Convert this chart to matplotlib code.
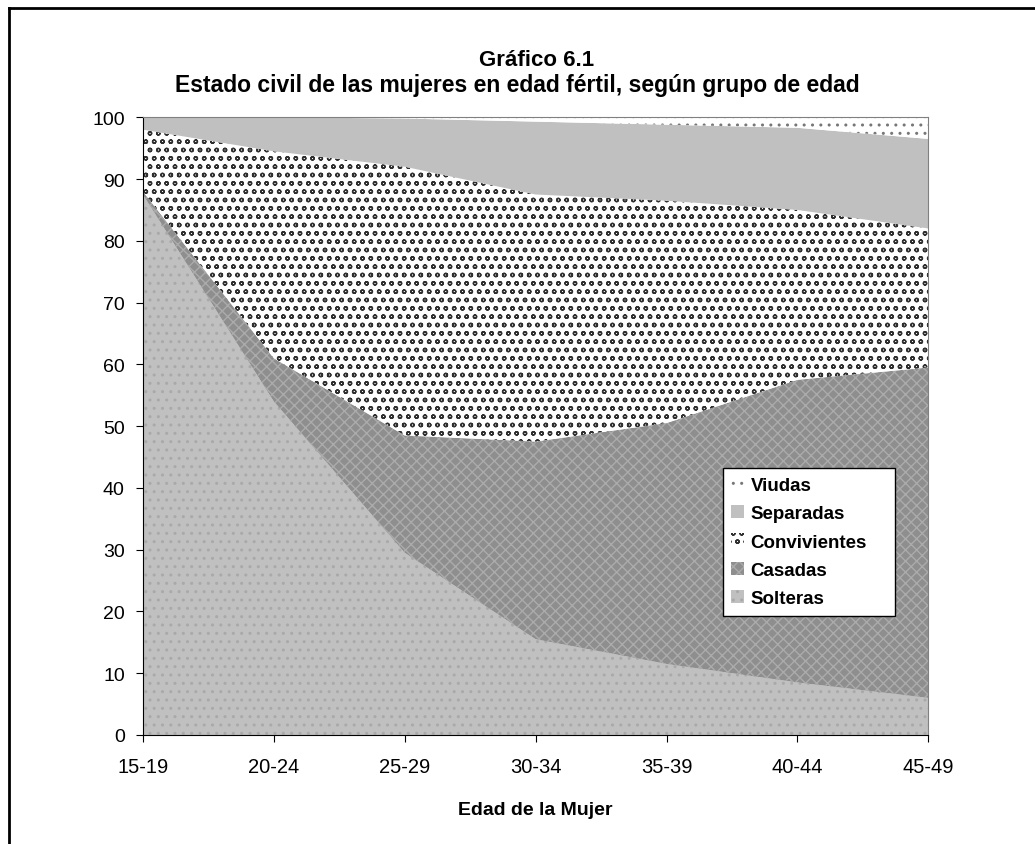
import matplotlib.pyplot as plt
import numpy as np
from matplotlib.lines import Line2D

plt.rcParams['font.family'] = ['Liberation Sans', 'DejaVu Sans']
plt.rcParams['hatch.linewidth'] = 1.0

grupos = ['15-19', '20-24', '25-29', '30-34', '35-39', '40-44', '45-49']
solteras = [87.5, 54.0, 29.5, 15.5, 11.5, 8.5, 6.0]
casadas = [0.5, 7.0, 19.0, 32.0, 39.0, 49.0, 53.5]
convivientes = [10.0, 33.5, 43.5, 40.0, 36.0, 27.5, 22.5]
separadas = [2.0, 5.5, 7.8, 11.8, 12.3, 13.3, 14.5]
viudas = [0.0, 0.0, 0.2, 0.7, 1.2, 1.7, 3.5]

series = [solteras, casadas, convivientes, separadas, viudas]
nombres = ['Solteras', 'Casadas', 'Convivientes', 'Separadas', 'Viudas']
caras = ['#c0c0c0', '#8e8e8e', 'white', '#c0c0c0', 'white']
tramas = ['..', 'xxx', 'oo', '', '..']
bordes = ['#a9a9a9', '#ababab', '#303030', '#c0c0c0', '#777777']

fig = plt.figure(figsize=(10.35, 8.45), dpi=100)
ax = fig.add_axes([0.138, 0.129, 0.759, 0.731])

x = np.arange(len(grupos))
polys = ax.stackplot(x, *series, colors=caras, labels=nombres, linewidth=0)
for p, h, e in zip(polys, tramas, bordes):
    p.set_hatch(h)
    p.set_edgecolor(e)
    p.set_linewidth(0)

ax.set_xlim(0, len(grupos) - 1)
ax.set_ylim(0, 100)
ax.set_xticks(x)
ax.set_xticklabels(grupos, fontsize=14.5)
ax.set_yticks(range(0, 101, 10))
ax.tick_params(axis='y', labelsize=14, direction='out', length=5, pad=8)
ax.tick_params(axis='x', direction='out', length=5, pad=11)
for s in ['top', 'right']:
    ax.spines[s].set_color('#808080')
ax.spines['left'].set_color('black')
ax.spines['bottom'].set_color('black')

ax.set_xlabel('Edad de la Mujer', fontsize=14, fontweight='bold', labelpad=18)
fig.text(0.518, 0.928, 'Gráfico 6.1', ha='center', va='center', fontsize=16, fontweight='bold')
fig.text(0.5, 0.899, 'Estado civil de las mujeres en edad fértil, según grupo de edad',
         ha='center', va='center', fontsize=16.5, fontweight='bold')

h, l = ax.get_legend_handles_labels()
leg = ax.legend(h[::-1], l[::-1], loc='lower left', bbox_to_anchor=(0.738, 0.193, 0.22, 0.234),
                mode='expand', prop={'weight': 'bold', 'size': 13.5},
                frameon=True, fancybox=False, edgecolor='black', framealpha=1,
                handlelength=0.7, handleheight=0.7, handletextpad=0.35,
                borderaxespad=0, labelspacing=0.6, borderpad=0.45)
leg.get_frame().set_linewidth(1.0)

# marco de la figura (solo arriba e izquierda)
fig.add_artist(Line2D([0.009, 1.0], [0.989, 0.989], color='black', lw=2, transform=fig.transFigure))
fig.add_artist(Line2D([0.009, 0.009], [0.0, 0.989], color='black', lw=2, transform=fig.transFigure))

fig.savefig('out.png', dpi=100)
